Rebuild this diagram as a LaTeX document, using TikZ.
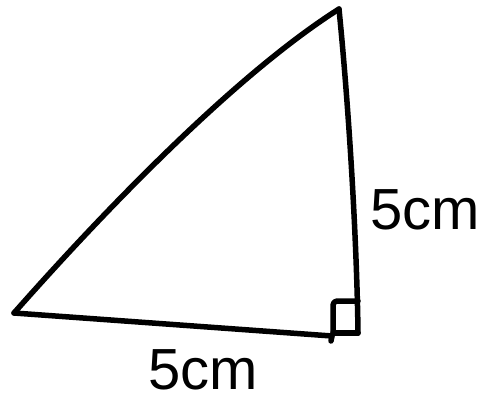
\documentclass[tikz,border=0pt]{standalone}
\usepackage{fontspec}
\setmainfont{Liberation Sans}
\begin{document}
\begin{tikzpicture}[x=1pt,y=-1pt,
  pen/.style={line width=5.5pt,line cap=round,line join=round,black},
  lbl/.style={font=\fontsize{58}{58}\selectfont,inner sep=0pt}]
\useasboundingbox (0,0) rectangle (485,405);
\coordinate (A) at (14,313);
\coordinate (B) at (339,9);
\coordinate (C) at (358,333);
\coordinate (D) at (332,336);
\draw[pen] (A) .. controls (105,210) and (235,75) .. (B);
\draw[pen] (B) .. controls (350,120) and (357,250) .. (C);
\draw[pen] (A) -- (D);
\draw[pen] (D) -- (331,341);
\draw[pen] (333,333) -- (333,305) [rounded corners=4pt] -- (333,301) -- (358,301);
\draw[pen] (333,333) -- (358,333);
\node[lbl] (r) at (425,210) {5cm};
\node[lbl] (b) at (203,370) {5cm};
\end{tikzpicture}
\end{document}
